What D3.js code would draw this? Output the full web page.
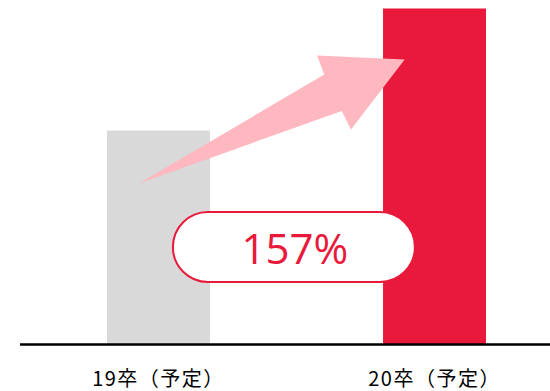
<!DOCTYPE html>
<html><head><meta charset="utf-8">
<script src="https://cdn.jsdelivr.net/npm/d3@7"></script>
<style>html,body{margin:0;padding:0;background:#fff;}svg{display:block;}</style>
</head><body>
<svg id="c" width="550" height="391"></svg>
<script>
const categories = ["19卒（予定）", "20卒（予定）"];
const values = [100, 157];
const barColors = ["#d9d9d9", "#e8193a"];
const growthLabel = "157%";

const svg = d3.select("#c");
const baseY = 344.5;
const x = d3.scaleBand().domain(categories).range([107, 486]).paddingInner(0.627).paddingOuter(0);
const y = d3.scaleLinear().domain([0, 157]).range([baseY, 8.5]);
const bw = x.bandwidth();

// bars
svg.selectAll("rect.bar").data(values).enter().append("rect")
  .attr("class", "bar")
  .attr("x", (d, i) => x(categories[i]))
  .attr("y", d => y(d))
  .attr("width", bw)
  .attr("height", d => y(0) - y(d))
  .attr("fill", (d, i) => barColors[i]);

// baseline axis
const axis = svg.append("g").attr("transform", `translate(0,${baseY})`)
  .call(d3.axisBottom(x).tickSize(0).tickPadding(0));
axis.select(".domain").remove();
svg.append("line").attr("x1", 20).attr("x2", 550).attr("y1", baseY).attr("y2", baseY)
  .attr("stroke", "#000").attr("stroke-width", 2.5);
axis.selectAll("text")
  .attr("y", 41).attr("dy", 0).attr("dx", 0)
  .attr("font-family", "'Noto Sans CJK JP', sans-serif")
  .attr("font-size", 20).attr("letter-spacing", 1.5).attr("fill", "#000");

// arrow (relative to bars)
const b0 = x(categories[0]), b1 = x(categories[1]);
const y0 = y(values[0]), y1 = y(values[1]);
const pts = [
  [b0 + 0.31 * bw, y0 + 53],   // tail
  [b0 + 2.11 * bw, y1 + 66],   // upper shaft joint
  [b0 + 2.04 * bw, y1 + 47],   // upper barb
  [b1 + 0.21 * bw, y1 + 51],   // tip
  [b0 + 2.37 * bw, y1 + 121],  // lower barb
  [b0 + 2.28 * bw, y1 + 102.5] // lower shaft joint
];
svg.append("path").attr("d", d3.line()(pts) + "Z").attr("fill", "#ffb7c0");

// pill label
const px = b0 + 0.64 * bw, pw = 242, pyTop = 212, ph = 70;
svg.append("rect").attr("x", px).attr("y", pyTop).attr("width", pw).attr("height", ph)
  .attr("rx", ph / 2).attr("ry", ph / 2)
  .attr("fill", "#fff").attr("stroke", "#e8193a").attr("stroke-width", 2);
svg.append("text").attr("x", px + pw / 2 + 1).attr("y", pyTop + 52)
  .attr("text-anchor", "middle")
  .attr("font-family", "'Open Sans', 'Noto Sans', sans-serif")
  .attr("font-size", 42).attr("fill", "#e8193a")
  .text(growthLabel);
</script>
</body></html>
